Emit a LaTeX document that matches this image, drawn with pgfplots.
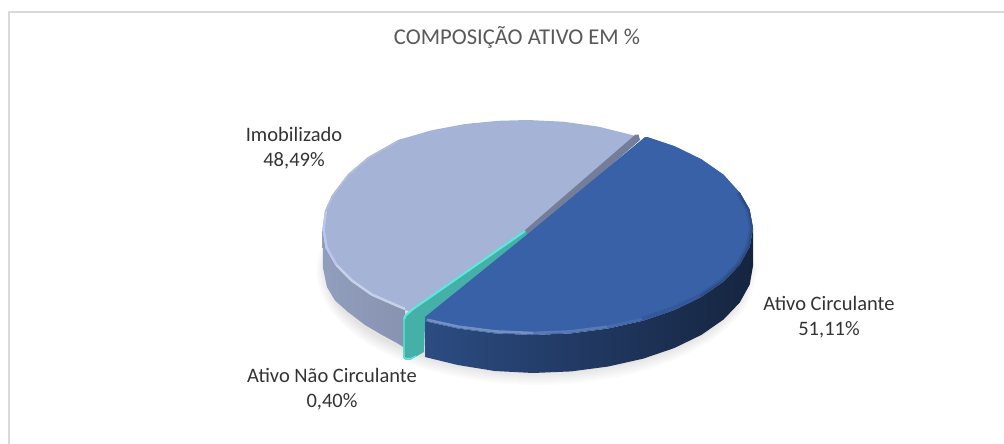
\documentclass[border=0pt]{standalone}
\usepackage{pgfplots}
\usepackage{pgfplotstable}
\usepackage{fontspec}
\setmainfont{Carlito}
\pgfplotsset{compat=1.18}
\definecolor{frameg}{HTML}{D9D9D9}
\definecolor{darkface}{HTML}{3861A7}
\definecolor{lightface}{HTML}{A5B3D6}
\definecolor{lightrim}{HTML}{B9C6EE}
\definecolor{wallgray}{HTML}{747E9B}
\definecolor{tealw}{HTML}{45B0A8}
\definecolor{tealh}{HTML}{5EE8DD}
\definecolor{titleg}{HTML}{595959}
\definecolor{labelg}{HTML}{333333}
% unit circle used for the soft shadow rings
\pgfplotstableread{
c s
1.000 0.000
0.940 0.342
0.766 0.643
0.500 0.866
0.174 0.985
-0.174 0.985
-0.500 0.866
-0.766 0.643
-0.940 0.342
-1.000 0.000
-0.940 -0.342
-0.766 -0.643
-0.500 -0.866
-0.174 -0.985
0.174 -0.985
0.500 -0.866
0.766 -0.643
0.940 -0.342
}\ringtable
\begin{document}
\begin{tikzpicture}
\path[use as bounding box] (0,0) rectangle (1004pt,444pt);
\begin{axis}[
  at={(0,0)}, anchor=south west,
  scale only axis, width=1004pt, height=444pt,
  xmin=0, xmax=1004, ymin=0, ymax=444, y dir=reverse,
  hide axis, clip=false, no markers,
  every axis plot/.append style={forget plot, line join=round},
]
% chart frame
\addplot[frameg, line width=2.2pt] coordinates {(9,444) (9,12) (1004,12)};
% shadow
\foreach \g in {0,2,4,6,8,10,12}{
  \edef\tmp{\noexpand\addplot[draw=none, fill=black, opacity=0.014, smooth, tension=0.55]
    table[x expr=\noexpand\thisrow{c}*(211+0.8*\g)+537, y expr=\noexpand\thisrow{s}*(103+\g)+270] {\noexpand\ringtable} -- cycle;}
  \tmp
}
% light slice side wall
\addplot[draw=none, left color=lightface!88!black, right color=lightface!70!wallgray!90!black] coordinates {
 (322.5,229) (325.5,247.9) (335.4,265.5) (350.5,281) (371.0,295.5) (396.2,306.5) (405,310)
 (405,348) (396,342.5) (382,335) (365,325) (348,312) (335,300.5) (327,287) (323,268)} -- cycle;
% light slice top face
\addplot[draw=none, fill=lightface] coordinates {
 (526,232) (637,136.7) (630.5,134.6) (598.1,126.6) (563.6,121.7) (528,120) (498,120.8) (465,124)
 (432,130.2) (398,140) (368,157) (348,174) (332,195) (325,210.5) (322.5,229)
 (325.5,247.9) (335.4,265.5) (350.5,281) (371.0,295.5) (396.2,306.5) (405,310) (412,312)} -- cycle;
% light rim
\addplot[color=lightface!85!white, line width=1.5pt] coordinates {(398.3,141) (368.6,157.8) (348.7,174.6) (332.9,195.4) (326,210.7)};
\addplot[color=lightrim, line width=2.4pt] coordinates {(326,210.7) (323.6,229) (326.7,247.5) (336.5,265)};
\addplot[color=lightface!62!white, line width=2.4pt] coordinates {(336.5,265) (351.5,280.2) (371.8,294.5) (397,305.5) (405,309)};
% grey wall of the light slice
\addplot[draw=none, fill=wallgray] coordinates {(635.5,134.5) (638.5,134.5) (640,140) (528,238) (524,231)} -- cycle;
% teal wall
\addplot[draw=none, fill=tealw] coordinates {
 (403,318) (413,308) (525,230) (530,240) (425,325) (424,352) (411,359.5) (405,359.5) (403.5,358)} -- cycle;
\addplot[color=tealh, line width=2.2pt] coordinates {(525,231) (413,309) (405.5,315.5) (404,319)};
\addplot[color=tealh, line width=1.3pt] coordinates {(404,319) (404,357) (406,358.6) (411,358.6) (416,356)};
% dark slice side wall
\addplot[draw=none, left color=darkface!78!black, middle color=darkface!47!black, right color=darkface!38!black] coordinates {
 (753,228) (749.7,246.6) (739.7,264.6) (723.5,281.5) (701.5,296.8) (674.4,310.0) (643,320.7) (608.2,328.5)
 (571.2,333.4) (533,335) (494.8,333.4) (457.8,328.5) (425,321.2)
 (425,357) (457.8,365) (494.8,371) (533,373) (571.2,371.4) (608.2,366.5) (643,358.7) (674.4,348) (701.5,334.8)
 (723.5,319.5) (739.7,302.6) (749.7,284.6) (753,266)} -- cycle;
% dark slice top face
\addplot[draw=none, fill=darkface] coordinates {
 (527,234.6) (645,137) (648,137.2) (674.4,146.0) (701.5,159.2) (723.5,174.5) (739.7,192.5) (749.7,210) (753,228)
 (749.7,246.6) (739.7,264.6) (723.5,281.5) (701.5,296.8) (674.4,310.0) (643,320.7) (608.2,328.5)
 (571.2,333.4) (533,335) (494.8,333.4) (457.8,328.5) (425,321.2) (425,317)} -- cycle;
% dark rim: soft bevel on the right, highlight at the front
\addplot[color=darkface!92!black, line width=4pt] coordinates {(737.9,193) (747.7,209.8) (751,228) (747.7,246.2) (737.9,263.9) (721.8,280.5) (700,295.5) (673.1,308.4) (642,318.9)};
\addplot[color=darkface!78!black, line width=1.8pt] coordinates {(700,296.5) (722.6,281) (738.8,264.3) (748.7,246.4) (752,228) (748.7,210) (738.8,192.7)};
\addplot[color=darkface!70!white, line width=2.6pt] coordinates {(427,319.8) (458.4,326.7) (495.2,331.4) (533,333)};
\addplot[color=darkface!84!white, line width=2.6pt] coordinates {(533,333) (570.8,331.4) (607.6,326.7)};
\addplot[color=darkface!93!white, line width=2.2pt] coordinates {(607.6,326.7) (642,318.9)};
% labels
\node[text=titleg, font=\fontsize{22.6pt}{26pt}\selectfont] at (axis cs:517,37) {COMPOSIÇÃO ATIVO EM \%};
\node[text=labelg, font=\fontsize{20.5pt}{24pt}\selectfont] at (axis cs:294,134.5) {Imobilizado};
\node[text=labelg, font=\fontsize{20.5pt}{24pt}\selectfont] at (axis cs:294,160.5) {48,49\%};
\node[text=labelg, font=\fontsize{20.5pt}{24pt}\selectfont] at (axis cs:829,303.5) {Ativo Circulante};
\node[text=labelg, font=\fontsize{20.5pt}{24pt}\selectfont] at (axis cs:829,330) {51,11\%};
\node[text=labelg, font=\fontsize{20.5pt}{24pt}\selectfont] at (axis cs:332,375.5) {Ativo Não Circulante};
\node[text=labelg, font=\fontsize{20.5pt}{24pt}\selectfont] at (axis cs:332,401.5) {0,40\%};
\end{axis}
\end{tikzpicture}
\end{document}
